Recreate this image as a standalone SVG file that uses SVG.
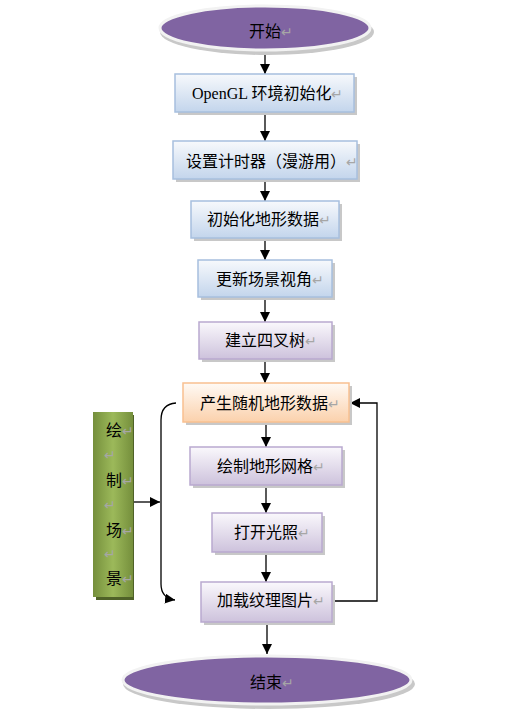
<svg xmlns="http://www.w3.org/2000/svg" width="524" height="714" viewBox="0 0 524 714">
<style>
.t{font-family:"Noto Sans CJK SC","Liberation Sans",sans-serif;font-size:16px;fill:#000}
.ts{font-family:"Liberation Serif","Noto Sans CJK SC",serif}
.r{fill:#a6a6a6;font-size:14px}
.c{fill:none;stroke:#000;stroke-width:1.3}
.sh{fill:#c8c8c8}
.bb{fill:url(#gb);stroke:#a7bfde;stroke-width:1.5}
.bp{fill:url(#gp);stroke:#b9a9cf;stroke-width:1.5}
.bo{fill:url(#go);stroke:#f9c090;stroke-width:1.5}
.el{fill:#8064a2;stroke:#f2f2f2;stroke-width:3}
</style>
<defs>
<linearGradient id="gb" x1="0" y1="0" x2="0" y2="1"><stop offset="0" stop-color="#f7f9fc"/><stop offset="1" stop-color="#c3d5ec"/></linearGradient>
<linearGradient id="gp" x1="0" y1="0" x2="0" y2="1"><stop offset="0" stop-color="#faf8fc"/><stop offset="1" stop-color="#cdc2dc"/></linearGradient>
<linearGradient id="go" x1="0" y1="0" x2="0" y2="1"><stop offset="0" stop-color="#fffaf5"/><stop offset="1" stop-color="#fbd1ac"/></linearGradient>
<linearGradient id="gg" x1="0" y1="0" x2="1" y2="0"><stop offset="0" stop-color="#758f3c"/><stop offset="0.5" stop-color="#9cb95a"/><stop offset="1" stop-color="#758f3c"/></linearGradient>
<marker id="ah" viewBox="0 0 10 10" refX="10" refY="5" markerWidth="10" markerHeight="10" markerUnits="userSpaceOnUse" orient="auto"><path d="M0,0 L10,5 L0,10 z" fill="#000"/></marker>
</defs>

<g id="connectors">
<line class="c" x1="265" y1="53" x2="265" y2="74" marker-end="url(#ah)"/>
<line class="c" x1="265" y1="113" x2="265" y2="141" marker-end="url(#ah)"/>
<line class="c" x1="265" y1="180" x2="265" y2="201" marker-end="url(#ah)"/>
<line class="c" x1="265" y1="239" x2="265" y2="260" marker-end="url(#ah)"/>
<line class="c" x1="265" y1="298" x2="265" y2="322" marker-end="url(#ah)"/>
<line class="c" x1="265" y1="360" x2="265" y2="383" marker-end="url(#ah)"/>
<line class="c" x1="266" y1="423" x2="266" y2="447" marker-end="url(#ah)"/>
<line class="c" x1="266" y1="486" x2="266" y2="513" marker-end="url(#ah)"/>
<line class="c" x1="266" y1="553" x2="266" y2="582" marker-end="url(#ah)"/>
<line class="c" x1="267" y1="623" x2="267" y2="654" marker-end="url(#ah)"/>
<line class="c" x1="133" y1="502" x2="160" y2="502" marker-end="url(#ah)"/>
<path class="c" d="M176,403 Q161,404 161,420 L161,584 Q161,598 175,600" marker-end="url(#ah)"/>
<path class="c" d="M332,601 H377 V403 H350" marker-end="url(#ah)"/>
</g>

<g id="start">
<ellipse class="sh" cx="267" cy="32" rx="107" ry="23"/>
<ellipse class="el" cx="265" cy="28" rx="105" ry="22"/>
<text class="t" x="249" y="37">开始<tspan class="r">↵</tspan></text>
</g>

<g id="n1">
<rect class="sh" x="178" y="77" width="179" height="38"/>
<rect class="bb" x="175" y="74" width="179" height="38"/>
<text class="t" x="192" y="99"><tspan class="ts">OpenGL </tspan>环境初始化<tspan class="r">↵</tspan></text>
</g>

<g id="n2">
<rect class="sh" x="176" y="144" width="184" height="38"/>
<rect class="bb" x="173" y="141" width="184" height="38"/>
<text class="t" x="186" y="167">设置计时器（漫游用）<tspan class="r">↵</tspan></text>
</g>

<g id="n3">
<rect class="sh" x="194" y="204" width="148" height="37"/>
<rect class="bb" x="191" y="201" width="148" height="37"/>
<text class="t" x="207" y="225">初始化地形数据<tspan class="r">↵</tspan></text>
</g>

<g id="n4">
<rect class="sh" x="201" y="263" width="134" height="37"/>
<rect class="bb" x="198" y="260" width="134" height="37"/>
<text class="t" x="216" y="285">更新场景视角<tspan class="r">↵</tspan></text>
</g>

<g id="n5">
<rect class="sh" x="202" y="325" width="133" height="37"/>
<rect class="bp" x="199" y="322" width="133" height="37"/>
<text class="t" x="225" y="346">建立四叉树<tspan class="r">↵</tspan></text>
</g>

<g id="n6">
<rect class="sh" x="186" y="386" width="166" height="39"/>
<rect class="bo" x="183" y="383" width="166" height="39"/>
<text class="t" x="200" y="409">产生随机地形数据<tspan class="r">↵</tspan></text>
</g>

<g id="n7">
<rect class="sh" x="193" y="450" width="152" height="38"/>
<rect class="bp" x="190" y="447" width="152" height="38"/>
<text class="t" x="217" y="472">绘制地形网格<tspan class="r">↵</tspan></text>
</g>

<g id="n8">
<rect class="sh" x="215" y="516" width="110" height="39"/>
<rect class="bp" x="212" y="513" width="110" height="39"/>
<text class="t" x="234" y="538">打开光照<tspan class="r">↵</tspan></text>
</g>

<g id="n9">
<rect class="sh" x="204" y="585" width="131" height="40"/>
<rect class="bp" x="201" y="582" width="131" height="40"/>
<text class="t" x="217" y="606">加载纹理图片<tspan class="r">↵</tspan></text>
</g>

<g id="draw">
<rect x="96" y="415" width="38" height="185" fill="#4f6228"/>
<rect x="93" y="412" width="40" height="185" fill="url(#gg)"/>
<text class="t" x="106" y="436">绘<tspan class="r">↵</tspan></text>
<text class="t r" x="104" y="460">↵</text>
<text class="t" x="106" y="486">制<tspan class="r">↵</tspan></text>
<text class="t r" x="104" y="510">↵</text>
<text class="t" x="106" y="536">场<tspan class="r">↵</tspan></text>
<text class="t r" x="104" y="559">↵</text>
<text class="t" x="106" y="584">景<tspan class="r">↵</tspan></text>
</g>

<g id="end">
<ellipse class="sh" cx="269" cy="684" rx="146" ry="25"/>
<ellipse class="el" cx="267" cy="680" rx="144" ry="24"/>
<text class="t" x="250" y="688">结束<tspan class="r">↵</tspan></text>
</g>
</svg>
